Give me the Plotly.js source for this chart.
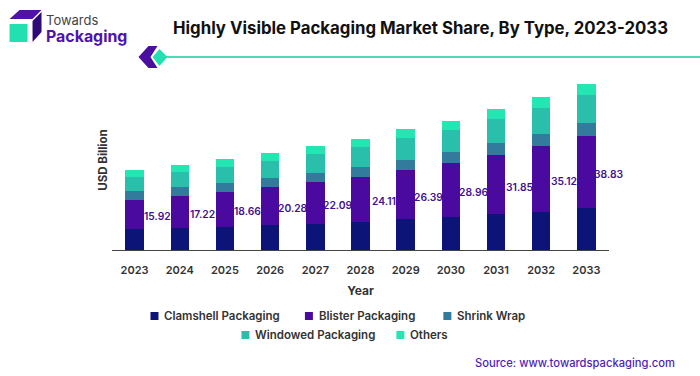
<!DOCTYPE html>
<html><head><meta charset="utf-8">
<script src="https://cdn.plot.ly/plotly-3.0.1.min.js"></script>
<style>html,body{margin:0;padding:0;background:#fff}#c{width:700px;height:376px}</style>
</head><body><div id="c"></div>
<script>
const years=["2023","2024","2025","2026","2027","2028","2029","2030","2031","2032","2033"];
const clamshell=[11.0,11.7,12.3,13.2,14.0,14.9,16.4,17.4,19.0,20.4,22.2];
const blister=[15.92,17.22,18.66,20.28,22.09,24.11,26.39,28.96,31.85,35.12,38.83];
const shrink=[4.4,4.8,5.0,4.8,5.2,5.3,5.3,5.7,6.2,6.4,6.9];
const windowed=[7.6,8.0,8.4,9.2,9.8,10.7,11.7,11.7,13.0,14.0,14.8];
const others=[3.7,3.7,4.1,4.3,4.3,4.3,4.6,5.3,5.3,5.7,6.0];
const colors=['#0d1478','#4a0a9f','#327b9c','#2abfaa','#23e6b2'];
const names=['Clamshell Packaging','Blister Packaging','Shrink Wrap','Windowed Packaging','Others'];
const W=700,H=376,L=111.5,R=91.3,T=70,B=126;
const px=x=>(x-L)/(W-L-R), py=y=>1-(y-T)/(H-T-B);
const font="Inter, 'Liberation Sans', sans-serif";
const series=[clamshell,blister,shrink,windowed,others];
const traces=series.map((y,i)=>({type:'bar',name:names[i],x:years,y,marker:{color:colors[i],line:{width:0}},width:0.41,showlegend:false}));
const labels=years.map((yr,i)=>({xref:'x',yref:'y',x:i,y:clamshell[i]+blister[i]/2,text:blister[i].toFixed(2),showarrow:false,xshift:23,yshift:-2,font:{family:font,size:10.3,color:'#43108f',weight:600}}));
function path(pts){return 'M'+pts.map(p=>px(p[0])+','+py(p[1])).join(' L')+' Z';}
function poly(pts,color){return {type:'path',xref:'paper',yref:'paper',path:path(pts),fillcolor:color,line:{width:0},layer:'above'};}
const legendPos=[[150,316,164],[304.5,316,318.5],[443,316,457],[241,335,255],[396,335,410]];
const legendShapes=legendPos.map((p,i)=>poly([[p[0],p[1]-4],[p[0]+8,p[1]-4],[p[0]+8,p[1]+4],[p[0],p[1]+4]],colors[i]));
const legendText=legendPos.map((p,i)=>({xref:'paper',yref:'paper',x:px(p[2]),y:py(p[1]),text:names[i],showarrow:false,xanchor:'left',yanchor:'middle',xshift:-2,font:{family:font,size:11.5,color:'#333',weight:600}}));
const shapes=[
 poly([[9,19],[19,10],[41,10],[32,19]],'#5012a8'),
 poly([[32,21],[41,12],[41,32],[32,42]],'#2e0a78'),
 poly([[9,24],[27,24],[27,42],[9,42]],'#23e0b0'),
 poly([[138,57],[148,46],[157,46],[150,57],[157,68],[148,68]],'#4a0f9f'),
 {type:'line',xref:'paper',yref:'paper',x0:px(165),x1:px(700),y0:py(57),y1:py(57),line:{color:'#52d8b4',width:2},layer:'above'},
 poly([[152,57],[159,49],[167,57],[159,66]],'#23e0b0')
].concat(legendShapes);
const annotations=labels.concat(legendText,[
 {xref:'paper',yref:'paper',x:px(47),y:py(20),text:'Towards',showarrow:false,xanchor:'left',yanchor:'middle',xshift:-4,font:{family:font,size:13,color:'#444'}},
 {xref:'paper',yref:'paper',x:px(46),y:py(36),text:'<b>Packaging</b>',showarrow:false,xanchor:'left',yanchor:'middle',xshift:-3,font:{family:font,size:15.9,color:'#4f12b0'}},
 {xref:'paper',yref:'paper',x:px(420),y:py(28),text:'<b>Highly Visible Packaging Market Share, By Type, 2023-2033</b>',showarrow:false,xanchor:'center',yanchor:'middle',font:{family:font,size:16.8,color:'#111'}},
 {xref:'paper',yref:'paper',x:px(675),y:py(363),text:'Source: www.towardspackaging.com',showarrow:false,xanchor:'right',yanchor:'middle',xshift:2,font:{family:font,size:11.2,color:'#4f1fb5',weight:500}}
]);
Plotly.newPlot('c',traces,{
 width:W,height:H,barmode:'stack',showlegend:false,
 paper_bgcolor:'#fff',plot_bgcolor:'#fff',
 margin:{l:L,r:R,t:T,b:B,pad:0},
 xaxis:{type:'category',categoryorder:'array',categoryarray:years,range:[-0.5,10.5],showgrid:false,zeroline:false,showline:true,linecolor:'#444',linewidth:1,ticks:'outside',ticklen:10,tickcolor:'rgba(255,255,255,0)',tickfont:{family:font,size:11,color:'#333',weight:600},
   title:{text:'<b>Year</b>',font:{family:font,size:12,color:'#333'},standoff:10}},
 yaxis:{range:[0,96],showgrid:false,zeroline:false,showline:false,showticklabels:false,ticks:'',
   title:{text:'<b>USD Billion</b>',font:{family:font,size:11.5,color:'#333'},standoff:0}},
 shapes,annotations
},{displayModeBar:false,responsive:false});
</script></body></html>
